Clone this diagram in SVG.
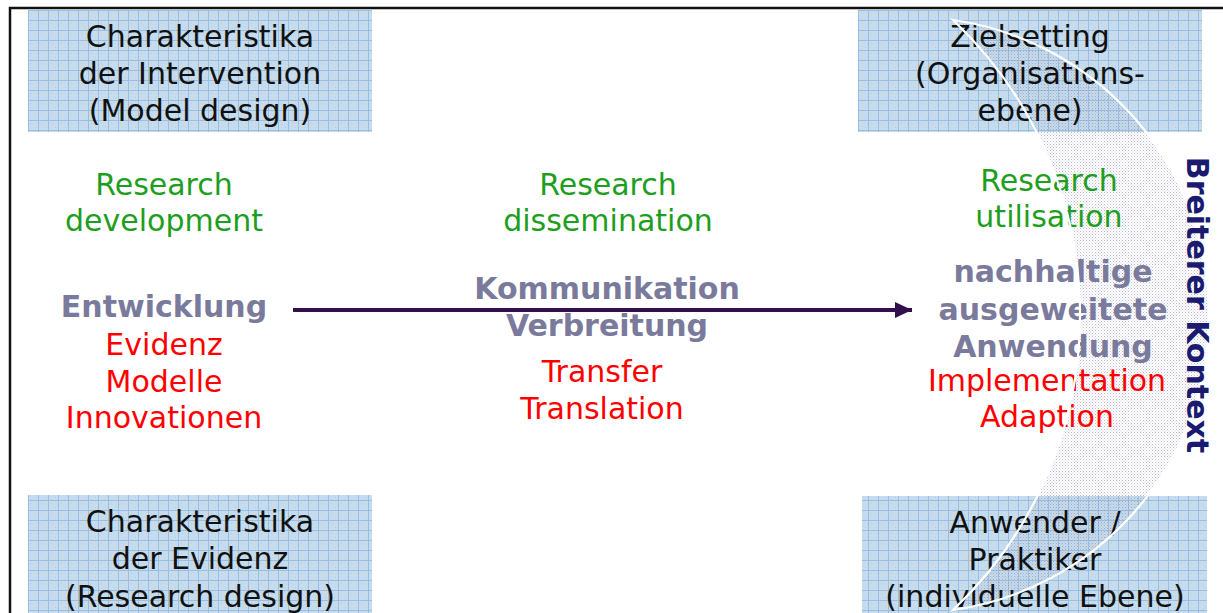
<svg xmlns="http://www.w3.org/2000/svg" width="1223" height="613" viewBox="0 0 1223 613">
<defs>
<pattern id="grid" patternUnits="userSpaceOnUse" width="10" height="10" x="28" y="10">
<rect width="10" height="10" fill="#c6dbeb"/>
<rect width="1" height="1" x="3" y="3" fill="#b8d0e5"/>
<rect width="1" height="1" x="7" y="7" fill="#b8d0e5"/>
<path d="M0.5,0 V10 M0,0.5 H10" stroke="#98bfe1" stroke-width="1" fill="none"/>
</pattern>
<pattern id="dots" patternUnits="userSpaceOnUse" width="3" height="3">
<rect width="1" height="1" x="0" y="0" fill="#8e8eb0"/>
<rect width="1" height="1" x="1.5" y="1.5" fill="#a8a8c4"/>
</pattern>
<marker id="ah" markerUnits="userSpaceOnUse" markerWidth="18" markerHeight="18" refX="17" refY="8" orient="auto">
<path d="M0,0 L17,8 L0,16 Z" fill="#33104d"/>
</marker>
</defs>
<style>
text{font-family:"DejaVu Sans","Verdana",sans-serif;font-size:30px;text-anchor:middle}
.box{fill:url(#grid)}
.bt{fill:#111}
.g{fill:#1e9e1e}
.r{fill:#ff0000}
.s{fill:#7a7a9c;font-weight:bold}
.k{fill:#1a1a70;font-weight:bold}
</style>
<rect width="1223" height="613" fill="#ffffff"/>
<path d="M10,613 V8 H1223" fill="none" stroke="#111" stroke-width="2.5"/>

<g id="box-intervention">
<rect class="box" x="28" y="10" width="344" height="122"/>
<text class="bt" x="200" y="47">Charakteristika</text>
<text class="bt" x="200" y="84">der Intervention</text>
<text class="bt" x="200" y="121">(Model design)</text>
</g>
<g id="box-ziel">
<rect class="box" x="858" y="10" width="344" height="122"/>
</g>
<g id="box-evidenz">
<rect class="box" x="28" y="495" width="344" height="130"/>
<text class="bt" x="200" y="532">Charakteristika</text>
<text class="bt" x="200" y="569">der Evidenz</text>
<text class="bt" x="200" y="607">(Research design)</text>
</g>
<g id="box-anwender">
<rect class="box" x="862" y="496" width="345" height="130"/>
</g>

<g id="context-crescent-fill">
<path d="M953,20 A298,298 0 0 1 953,610 A406,406 0 0 0 953,20 Z" fill="url(#dots)" opacity="0.6"/>
</g>

<g id="box-ziel-text">
<text class="bt" x="1030" y="47">Zielsetting</text>
<text class="bt" x="1030" y="84">(Organisations-</text>
<text class="bt" x="1030" y="121">ebene)</text>
</g>
<g id="box-anwender-text">
<text class="bt" x="1035" y="533">Anwender /</text>
<text class="bt" x="1035" y="570">Praktiker</text>
<text class="bt" x="1035" y="607">(individuelle Ebene)</text>
</g>

<g id="development">
<text class="g" x="164" y="195">Research</text>
<text class="g" x="164" y="231">development</text>
<text class="s" x="164" y="317">Entwicklung</text>
<text class="r" x="164" y="355">Evidenz</text>
<text class="r" x="164" y="392">Modelle</text>
<text class="r" x="164" y="428">Innovationen</text>
</g>
<g id="dissemination">
<text class="g" x="608" y="195">Research</text>
<text class="g" x="608" y="231">dissemination</text>
<text class="s" x="607" y="299">Kommunikation</text>
<text class="s" x="607" y="336">Verbreitung</text>
<text class="r" x="602" y="382">Transfer</text>
<text class="r" x="602" y="419">Translation</text>
</g>
<g id="utilisation">
<text class="g" x="1049" y="191">Research</text>
<text class="g" x="1049" y="227">utilisation</text>
<text class="s" x="1053" y="282">nachhaltige</text>
<text class="s" x="1053" y="320">ausgeweitete</text>
<text class="s" x="1053" y="357">Anwendung</text>
<text class="r" x="1047" y="391">Implementation</text>
<text class="r" x="1047" y="427">Adaption</text>
</g>

<g id="connectors">
<line x1="293" y1="310" x2="912" y2="310" stroke="#33104d" stroke-width="4" marker-end="url(#ah)"/>
</g>

<g id="context">
<path d="M953,20 A298,298 0 0 1 953,610 A406,406 0 0 0 953,20 Z" fill="none" stroke="#ffffff" stroke-width="2.2"/>
<text class="k" transform="translate(1187,305) rotate(90)" x="0" y="0">Breiterer Kontext</text>
</g>
</svg>
